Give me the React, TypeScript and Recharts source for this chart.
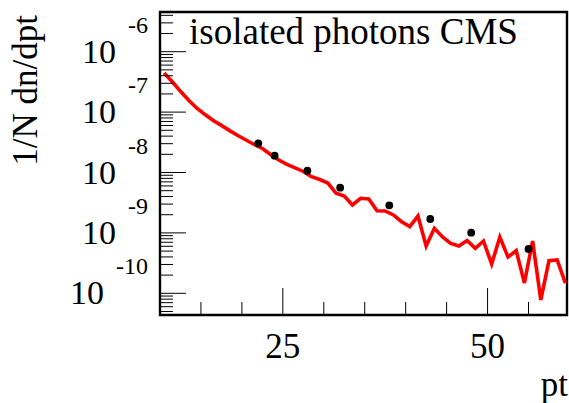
import { ComposedChart, Line, Scatter, XAxis, YAxis, ReferenceArea, Customized } from "recharts";

// simulated spectrum (bin centres, 1 GeV bins)
const binCenters = [
  10.5, 11.5, 12.5, 13.5, 14.5, 15.5, 16.5, 17.5, 18.5, 19.5,
  20.5, 21.5, 22.5, 23.5, 24.5, 25.5, 26.5, 27.5, 28.5, 29.5,
  30.5, 31.5, 32.5, 33.5, 34.5, 35.5, 36.5, 37.5, 38.5, 39.5,
  40.5, 41.5, 42.5, 43.5, 44.5, 45.5, 46.5, 47.5, 48.5, 49.5,
  50.5, 51.5, 52.5, 53.5, 54.5, 55.5, 56.5, 57.5, 58.5, 59.5,
];
const simValues = [
  4.44e-7, 3.18e-7, 2.21e-7, 1.57e-7, 1.16e-7, 9.1e-8, 7.27e-8, 6.02e-8, 4.94e-8, 4.1e-8,
  3.45e-8, 2.91e-8, 2.5e-8, 1.99e-8, 1.61e-8, 1.36e-8, 1.19e-8, 1.04e-8, 8.52e-9, 7.65e-9,
  6.7e-9, 4.53e-9, 4.08e-9, 2.9e-9, 3.74e-9, 3.64e-9, 2.33e-9, 2.31e-9, 1.98e-9, 1.53e-9,
  1.27e-9, 1.9e-9, 6.07e-10, 1.19e-9, 8.55e-10, 6.68e-10, 6.07e-10, 7.48e-10, 5.56e-10, 7.34e-10,
  3.05e-10, 8.53e-10, 3.99e-10, 5.07e-10, 1.48e-10, 7.34e-10, 7.75e-11, 3.47e-10, 3.56e-10, 1.47e-10,
];

// CMS measurement
const cmsPt = [22, 24, 28, 32, 38, 43, 48, 55];
const cmsValues = [3.04e-8, 1.9e-8, 1.07e-8, 5.6e-9, 2.86e-9, 1.7e-9, 1.01e-9, 5.41e-10];

const xMajorTicks = [25, 50];
const xMinorTicks = [15, 20, 30, 35, 40, 45, 55];
const yDecades = [-10, -9, -8, -7, -6];

const X_MIN = 10;
const X_MAX = 59.7;
const Y_MIN = 4.372e-11;
const Y_MAX = 4.543e-6;

const FONT = "'Liberation Serif', 'Times New Roman', serif";

const simData = binCenters.map((x, i) => ({ x, y: simValues[i] }));
const cmsData = cmsPt.map((x, i) => ({ x, y: cmsValues[i] }));

const yTicks: number[] = [];
for (const d of [-11, ...yDecades]) {
  for (let m = 1; m <= 9; m++) {
    const v = m * Math.pow(10, d);
    if (v >= Y_MIN && v <= Y_MAX) yTicks.push(v);
  }
}
const xTicks = [...xMinorTicks, ...xMajorTicks].sort((a, b) => a - b);

const YTick = ({ x, y, payload }: any) => {
  const v = payload.value;
  const e = Math.round(Math.log10(v));
  const major = Math.abs(v - Math.pow(10, e)) / v < 1e-6;
  return (
    <g>
      <line x1={x} x2={x + (major ? 26 : 13)} y1={y} y2={y} stroke="#000" strokeWidth={1} />
      {major && (
        <text x={x - 12} y={y + 11} textAnchor="end" fontFamily={FONT} fill="#000">
          <tspan fontFamily={FONT} fontSize={34}>10</tspan>
          <tspan fontFamily={FONT} fontSize={24} dx={12} dy={-30}>{String(e)}</tspan>
        </text>
      )}
    </g>
  );
};

const XTick = ({ x, y, payload }: any) => {
  const major = xMajorTicks.includes(payload.value);
  return (
    <g>
      <line x1={x} x2={x} y1={y} y2={y - (major ? 27 : 13)} stroke="#000" strokeWidth={1} />
      {major && (
        <text x={x} y={y + 43} textAnchor="middle" fontFamily={FONT} fontSize={35} fill="#000">
          {payload.value}
        </text>
      )}
    </g>
  );
};

const Texts = () => (
  <g fontFamily={FONT} fill="#000">
    <text x={189} y={44} fontSize={37}>isolated photons CMS</text>
    <text transform="translate(37,15) rotate(-90)" textAnchor="end" fontSize={35}>1/N dn/dpt</text>
    <text x={568} y={396} textAnchor="end" fontSize={35}>pt</text>
  </g>
);

export default function App() {
  return (
    <div style={{ position: "absolute", left: 0, top: 0, background: "#fff" }}>
      <ComposedChart width={569} height={403} margin={{ top: 12, right: 2, bottom: 0, left: 0 }}>
        <XAxis
          type="number"
          dataKey="x"
          domain={[X_MIN, X_MAX]}
          allowDataOverflow
          ticks={xTicks}
          interval={0}
          tick={<XTick />}
          tickSize={0}
          tickMargin={0}
          tickLine={false}
          axisLine={false}
          height={88}
        />
        <YAxis
          type="number"
          dataKey="y"
          scale="log"
          domain={[Y_MIN, Y_MAX]}
          allowDataOverflow
          ticks={yTicks}
          interval={0}
          tick={<YTick />}
          tickSize={0}
          tickMargin={0}
          tickLine={false}
          axisLine={false}
          width={160}
        />
        <Line
          data={simData}
          dataKey="y"
          type="linear"
          stroke="#ff0000"
          strokeWidth={3.6}
          dot={false}
          activeDot={false}
          isAnimationActive={false}
        />
        <Scatter
          data={cmsData}
          dataKey="y"
          fill="#000"
          shape={(p: any) => <circle cx={p.cx} cy={p.cy} r={3.9} fill="#000" />}
          isAnimationActive={false}
        />
        <ReferenceArea
          x1={X_MIN}
          x2={X_MAX}
          y1={Y_MIN}
          y2={Y_MAX}
          fill="none"
          stroke="#000"
          strokeWidth={2.4}
          ifOverflow="visible"
        />
        <Customized component={Texts} />
      </ComposedChart>
    </div>
  );
}
